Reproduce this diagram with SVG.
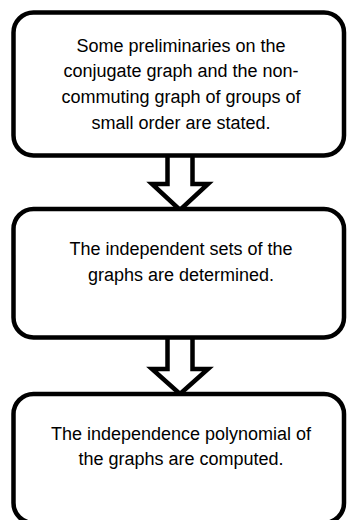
<svg xmlns="http://www.w3.org/2000/svg" width="347" height="520" viewBox="0 0 347 520">
<style>
.box{fill:#fff;stroke:#000;stroke-width:4.5}
.arrow{fill:#fff;stroke:#000;stroke-width:4.5;stroke-linejoin:miter}
text{font-family:"Liberation Sans",Arial,sans-serif;font-size:18px;fill:#000;text-anchor:middle}
</style>
<rect width="347" height="520" fill="#fff"/>
<g id="connectors">
<path class="arrow" d="M167.5,156 V184 H152 L180,210 L208,184 H192.5 V156"/>
<path class="arrow" d="M167.5,339 V369 H152 L180,394 L208,369 H192.5 V339"/>
</g>
<g id="node1">
<rect class="box" x="13.5" y="12.5" width="330.5" height="143" rx="20"/>
<text x="181" y="51.5">Some preliminaries on the</text>
<text x="181" y="77.3">conjugate graph and the non-</text>
<text x="181" y="103.1">commuting graph of groups of</text>
<text x="181" y="128.9">small order are stated.</text>
</g>
<g id="node2">
<rect class="box" x="13.5" y="209" width="330.5" height="128.5" rx="20"/>
<text x="181" y="255">The independent sets of the</text>
<text x="181" y="280.5">graphs are determined.</text>
</g>
<g id="node3">
<rect class="box" x="13.5" y="394" width="330.5" height="129" rx="20"/>
<text x="181" y="439.5">The independence polynomial of</text>
<text x="181" y="464.5">the graphs are computed.</text>
</g>
</svg>
